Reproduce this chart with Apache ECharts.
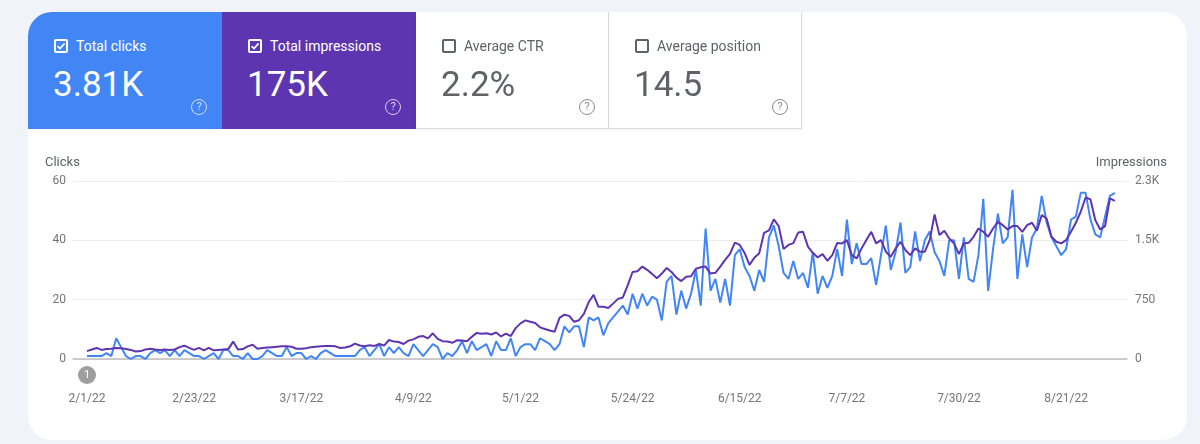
<!DOCTYPE html>
<html>
<head>
<meta charset="utf-8">
<script src="https://cdn.jsdelivr.net/npm/echarts@6/dist/echarts.min.js"></script>
<style>
  html, body { margin:0; padding:0; width:1200px; height:444px; overflow:hidden; background:#f0f3fa; font-family: Roboto, "Noto Sans", sans-serif; }
  #panel { position:absolute; left:28px; top:12px; width:1159px; height:428px; background:#fff; border-radius:24px; }
  #chart { position:absolute; left:0; top:0; width:1200px; height:444px; }
  .card { position:absolute; top:12px; height:117px; width:194px; box-sizing:border-box; }
  .card .cb { position:absolute; left:26px; top:27px; width:14px; height:14px; box-sizing:border-box; border:2px solid currentColor; border-radius:2px; }
  .card .cb svg { position:absolute; left:0px; top:0px; }
  .card .lbl { position:absolute; left:48px; top:26px; font-size:14px; line-height:16px; white-space:nowrap; }
  .card .val { position:absolute; left:25px; top:55px; font-size:35px; line-height:35px; font-weight:400; white-space:nowrap; }
  .card .q { position:absolute; left:163px; top:87px; width:16px; height:16px; box-sizing:border-box; border:1.5px solid currentColor; border-radius:50%; font-size:11px; line-height:13px; text-align:center; opacity:0.75; }
  .white { background:#fff; color:#5f6368; border-right:1px solid #dadce0; border-bottom:1px solid #dadce0; box-shadow:0 1px 2px rgba(60,64,67,0.08); }
</style>
</head>
<body>
<div id="panel"></div>
<div id="chart"></div>
<div class="card" style="left:28px;width:194px;background:#4285f4;color:#fff;border-top-left-radius:24px;">
  <span class="cb"><svg width="10" height="10" viewBox="0 0 10 10"><path d="M1.5 5.2 L4 7.6 L8.6 2.4" stroke="#fff" stroke-width="1.6" fill="none"/></svg></span>
  <span class="lbl">Total clicks</span>
  <span class="val">3.81K</span>
  <span class="q">?</span>
</div>
<div class="card" style="left:222px;width:194px;background:#5e35b1;color:#fff;">
  <span class="cb"><svg width="10" height="10" viewBox="0 0 10 10"><path d="M1.5 5.2 L4 7.6 L8.6 2.4" stroke="#fff" stroke-width="1.6" fill="none"/></svg></span>
  <span class="lbl">Total impressions</span>
  <span class="val">175K</span>
  <span class="q">?</span>
</div>
<div class="card white" style="left:416px;width:193px;">
  <span class="cb"></span>
  <span class="lbl">Average CTR</span>
  <span class="val">2.2%</span>
  <span class="q">?</span>
</div>
<div class="card white" style="left:609px;width:193px;">
  <span class="cb"></span>
  <span class="lbl">Average position</span>
  <span class="val">14.5</span>
  <span class="q">?</span>
</div>
<script>
// ---- data ----
const startDate = '2022-02-01';
const tickLabels = ['2/1/22','2/23/22','3/17/22','4/9/22','5/1/22','5/24/22','6/15/22','7/7/22','7/30/22','8/21/22'];
const leftTickLabels = ['0','20','40','60'];
const rightTickLabels = ['0','750','1.5K','2.3K'];
const clicks = [
  1,1,1,1,2,1,7,4,1,0,
  1,1,0,2,3,2,3,1,3,1,
  3,2,1,1,0,1,2,0,3,3,
  1,1,0,2,0,0,1,3,2,1,
  1,4,1,2,2,0,1,0,2,3,
  2,1,1,1,1,1,3,4,1,3,
  5,1,4,2,4,2,1,5,3,1,
  3,5,4,0,2,1,3,6,2,6,
  3,4,5,1,6,3,3,7,1,4,
  5,5,3,7,6,5,3,5,11,9,
  11,11,4,14,13,14,8,12,14,16,
  18,15,22,17,22,18,21,20,13,26,
  28,15,23,17,22,30,18,44,23,27,
  19,27,18,35,37,31,28,23,30,26,
  41,45,38,29,27,33,27,29,24,36,
  22,28,24,28,37,28,47,32,39,32,
  32,34,25,35,45,30,36,46,29,31,
  43,33,40,43,36,33,28,40,40,27,
  41,27,26,35,54,23,37,49,39,41,
  57,27,42,31,41,44,55,46,41,38,
  35,37,47,48,56,56,47,42,41,48,
  55,56
];
const impressions = [
  100,120,140,115,125,130,140,135,125,115,
  95,100,120,130,120,115,120,115,120,150,
  168,140,115,140,110,140,110,115,120,125,
  220,120,125,160,180,130,140,145,150,155,
  160,160,155,130,130,135,150,155,160,165,
  165,160,140,145,160,195,170,160,175,165,
  190,170,240,220,215,190,232,248,280,290,
  260,325,255,225,220,205,238,235,225,280,
  330,320,325,310,335,285,320,290,390,450,
  488,470,455,400,380,360,345,520,560,545,
  470,490,570,720,810,660,660,645,700,760,
  778,930,1100,1110,1168,1127,1076,1020,1080,1150,
  1100,1028,985,1040,1045,1140,1160,1168,1080,1090,
  1168,1252,1330,1470,1442,1340,1190,1280,1337,1595,
  1625,1766,1680,1390,1442,1465,1598,1608,1420,1343,
  1284,1326,1242,1313,1466,1461,1503,1313,1271,1398,
  1503,1608,1461,1503,1356,1292,1398,1482,1377,1313,
  1398,1356,1356,1503,1827,1566,1621,1524,1461,1326,
  1461,1469,1545,1650,1608,1545,1650,1734,1692,1638,
  1680,1680,1608,1692,1722,1621,1819,1776,1545,1482,
  1461,1503,1608,1722,1861,2042,2017,1755,1638,1680,
  2030,2000
];

// ---- helpers ----
const start = Date.UTC(2022, 1, 1);
function dayOf(label) {
  const p = label.split('/').map(Number);
  return Math.round((Date.UTC(2000 + p[2], p[0] - 1, p[1]) - start) / 86400000);
}
const tickDays = tickLabels.map(dayOf);
const labelByDay = {};
tickDays.forEach((d, i) => { labelByDay[d] = tickLabels[i]; });

const chart = echarts.init(document.getElementById('chart'), null, { renderer: 'canvas' });
const font = 'Roboto, "Noto Sans", sans-serif';
const option = {
  animation: false,
  backgroundColor: 'transparent',
  grid: { left: 73, right: 73, top: 181, bottom: 85 },
  xAxis: {
    type: 'value',
    min: -2.87,
    max: 213.5,
    splitLine: { show: false },
    axisTick: { show: false },
    axisLine: { show: true, onZero: false, lineStyle: { color: '#bdbdbd', width: 1.5 } },
    axisLabel: {
      customValues: tickDays,
      formatter: v => labelByDay[Math.round(v)] || '',
      margin: 34, color: '#757575', fontSize: 12, fontFamily: font
    }
  },
  yAxis: [
    {
      type: 'value', position: 'left', min: 0, max: 60, interval: 20,
      axisLine: { show: false }, axisTick: { show: false },
      splitLine: { lineStyle: { color: '#ececec', width: 1 } },
      axisLabel: { margin: 7, color: '#757575', fontSize: 12, fontFamily: font,
        formatter: v => leftTickLabels[Math.round(v / 20)] }
    },
    {
      type: 'value', position: 'right', min: 0, max: 2250, interval: 750,
      axisLine: { show: false }, axisTick: { show: false },
      splitLine: { show: false },
      axisLabel: { margin: 8, color: '#757575', fontSize: 12, fontFamily: font,
        formatter: v => rightTickLabels[Math.round(v / 750)] }
    }
  ],
  series: [
    {
      name: 'Clicks', type: 'line', yAxisIndex: 0, showSymbol: false,
      data: clicks.map((v, i) => [i, v]),
      lineStyle: { color: '#4285f4', width: 2 }, itemStyle: { color: '#4285f4' }
    },
    {
      name: 'Impressions', type: 'line', yAxisIndex: 1, showSymbol: false,
      data: impressions.map((v, i) => [i, v]),
      lineStyle: { color: '#5e35b1', width: 2 }, itemStyle: { color: '#5e35b1' }
    }
  ]
};
chart.setOption(option);

const x0 = chart.convertToPixel({ xAxisIndex: 0 }, 0);
chart.setOption({
  graphic: [
    { type: 'text', left: 45, top: 156, style: { text: 'Clicks', fill: '#5f6368', fontSize: 13, fontFamily: font } },
    { type: 'text', right: 33, top: 156, style: { text: 'Impressions', fill: '#5f6368', fontSize: 13, fontFamily: font } },
    { type: 'circle', shape: { cx: x0, cy: 375, r: 9 }, style: { fill: '#9e9e9e' } },
    { type: 'text', x: x0, y: 375, style: { text: '1', fill: '#fff', fontSize: 11, fontFamily: font, align: 'center', verticalAlign: 'middle' } }
  ]
});
</script>
</body>
</html>
